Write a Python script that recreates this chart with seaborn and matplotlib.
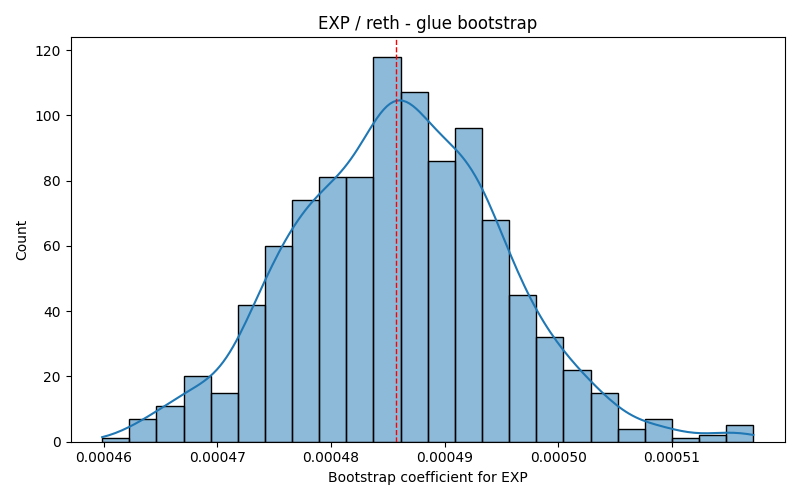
import numpy as np
import pandas as pd
import matplotlib
matplotlib.use("Agg")
import matplotlib.pyplot as plt
import seaborn as sns

# Bootstrap histogram (counts, 24 bins)
bin_start = 0.00045987
bin_end = 0.00051717
counts = [1, 7, 11, 20, 15, 42, 60, 74, 81, 81, 118, 107,
          86, 96, 68, 45, 32, 22, 15, 4, 7, 1, 2, 5]
# mean of the raw bootstrap draws (red line)
mean_coef = 0.00048573

edges = np.linspace(bin_start, bin_end, len(counts) + 1)
centers = (edges[:-1] + edges[1:]) / 2
df = pd.DataFrame({"coef": np.repeat(centers, counts)})

# stretch the kde out to the outer bin edges like the raw data did
bw = df["coef"].std(ddof=1) * len(df) ** (-1 / 5)
cut = (edges[1] - edges[0]) / 2 / bw

fig, ax = plt.subplots(figsize=(8, 5), dpi=100)
sns.histplot(data=df, x="coef", bins=edges, kde=True, kde_kws={"cut": cut}, ax=ax)
ax.axvline(mean_coef, color="red", linestyle="--", linewidth=1)
ax.set_xlim(0.0004571, 0.00051995)
ax.set_title("EXP / reth - glue bootstrap")
ax.set_xlabel("Bootstrap coefficient for EXP")
ax.set_ylabel("Count")
plt.tight_layout()
plt.savefig("out.png")
